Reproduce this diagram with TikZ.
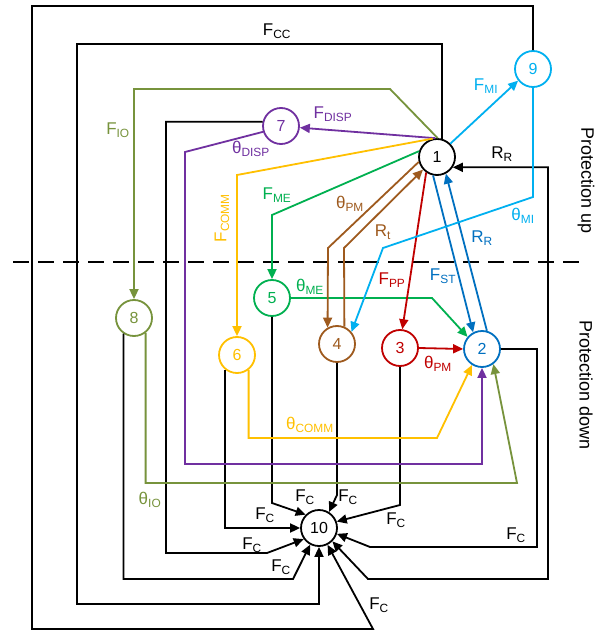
\documentclass[tikz,border=0pt]{standalone}
\usepackage{fontspec}
\setmainfont{Liberation Sans}
\usetikzlibrary{arrows.meta}
\definecolor{cpur}{HTML}{7030A0}
\definecolor{cyel}{HTML}{FFC000}
\definecolor{cgrn}{HTML}{00B050}
\definecolor{coli}{HTML}{77933C}
\definecolor{cbrn}{HTML}{9E5A1E}
\definecolor{cred}{HTML}{C00000}
\definecolor{cblu}{HTML}{0070C0}
\definecolor{clbl}{HTML}{00B0F0}
\tikzset{
  nd/.style={circle, draw=#1, text=#1, line width=1.8pt, minimum size=36pt, inner sep=0pt, fill=white, font=\fontsize{16}{18}\selectfont},
  ln/.style={line width=1.8pt, draw=#1},
  ln/.default=black,
  tip/.style={-{Triangle[length=10pt,width=9pt]}},
  lb/.style={text=#1, inner sep=0pt, font=\fontsize{17}{20}\selectfont},
  lb/.default=black,
  side/.style={inner sep=0pt, font=\fontsize{18}{20}\selectfont, rotate=-90}
}
\begin{document}
\begin{tikzpicture}[x=1pt,y=-1pt]
\useasboundingbox (0,0) rectangle (597,631);
\fill[white] (0,0) rectangle (597,631);

% dashed divider
\draw[line width=2.2pt, dash pattern=on 16pt off 9pt] (13,262) -- (584,262);

% nodes
\node[nd=black] (n1) at (437,157) {1};
\node[nd=cblu] (n2) at (482,349) {2};
\node[nd=cred] (n3) at (400,348) {3};
\node[nd=cbrn] (n4) at (337,344) {4};
\node[nd=cgrn] (n5) at (272,298) {5};
\node[nd=cyel] (n6) at (237,355) {6};
\node[nd=cpur] (n7) at (281,126) {7};
\node[nd=coli] (n8) at (134,318) {8};
\node[nd=clbl] (n9) at (533,69) {9};
\node[nd=black] (n10) at (319,528) {10};

% black connectors to node 10
\draw[ln,tip] (n9.north) |- (32,6) -- (32,629) -- (373,629) -- (n10.-63);
\draw[ln,tip] (n1.75) |- (77,44) -- (77,604) -| (n10.south);
\draw[ln,tip] (n7.167) -| (166,553) -- (267,553) -- (n10.216);
\draw[ln,tip] (n8.236) |- (293,579) -- (n10.242);
\draw[ln,tip] (n6.232) |- (n10.west);
\draw[ln,tip] (n5.south) -- (272,503) -- (n10.135);
\draw[ln,tip] (n4.south) -- (337,495) -- (n10.58);
\draw[ln,tip] (n3.south) -- (400,505) -- (n10.20);
\draw[ln,tip] (n2.east) -| (537,547) -- (370,547) -- (n10.-18);
\draw[ln,{Triangle[length=10pt,width=9pt]}-{Triangle[length=10pt,width=9pt]}] (n10.-45) -- (368,579) -- (548,579) |- (n1.-33);

% olive
\draw[ln=coli,tip] (n1.88) -- (390,89) -- (134,89) -- (n8.north);
\draw[ln=coli,tip] (n8.-52) |- (517,483) -- (n2.-53);
% purple
\draw[ln=cpur,tip] (n1.95) -- (n7.-5);
\draw[ln=cpur,tip] (n7.198) -- (185,152) -- (185,464) -| (n2.south);
% yellow
\draw[ln=cyel,tip] (n1.103) -- (237,175) -- (n6.north);
\draw[ln=cyel,tip] (n6.-52) |- (437,438) -- (n2.238);
% green
\draw[ln=cgrn,tip] (n1.162) -- (272,215) -- (n5.north);
\draw[ln=cgrn,tip] (n5.east) -- (432,298) -- (n2.140);
% brown
\draw[ln=cbrn,tip] (n1.195) -- (328,248) -- (n4.120);
\draw[ln=cbrn,tip] (n4.67) -- (344,248) -- (n1.222);
% red
\draw[ln=cred,tip] (n1.235) -- (n3.83);
\draw[ln=cred,tip] (n3.east) -- (n2.west);
% blue
\draw[ln=cblu,tip] (n1.258) -- (n2.118);
\draw[ln=cblu,tip] (n2.75) -- (n1.298);
% light blue
\draw[ln=clbl,tip] (n1.45) -- (n9.218);
\draw[ln=clbl,tip] (n9.south) -- (533,197) -- (383,248) -- (n4.40);

% labels
\node[lb] (lcc) at (277,31) {F\textsubscript{CC}};
\node[lb=coli] (lio) at (118,130) {F\textsubscript{IO}};
\node[lb=cpur] (ldisp) at (333,114) {F\textsubscript{DISP}};
\node[lb=cpur] (ltdisp) at (251,149) {θ\textsubscript{DISP}};
\node[lb=cyel, rotate=90] (lcomm) at (222,218) {F\textsubscript{COMM}};
\node[lb=cgrn] (lme) at (277,195) {F\textsubscript{ME}};
\node[lb=cgrn] (ltme) at (310,287) {θ\textsubscript{ME}};
\node[lb=cbrn] (ltpm1) at (350,204) {θ\textsubscript{PM}};
\node[lb=cbrn] (lrt) at (383,232) {R\textsubscript{t}};
\node[lb=cred] (lpp) at (392,280) {F\textsubscript{PP}};
\node[lb=cred] (ltpm2) at (438,364) {θ\textsubscript{PM}};
\node[lb=cblu] (lst) at (443,276) {F\textsubscript{ST}};
\node[lb=cblu] (lrr2) at (482,238) {R\textsubscript{R}};
\node[lb=clbl] (lmi) at (486,86) {F\textsubscript{MI}};
\node[lb=clbl] (ltmi) at (523,216) {θ\textsubscript{MI}};
\node[lb] (lrr1) at (502,154) {R\textsubscript{R}};
\node[lb=cyel] (ltcomm) at (310,425) {θ\textsubscript{COMM}};
\node[lb=coli] (ltio) at (150,500) {θ\textsubscript{IO}};
\node[lb] (fc1) at (305,497) {F\textsubscript{C}};
\node[lb] (fc2) at (348,497) {F\textsubscript{C}};
\node[lb] (fc3) at (265,515) {F\textsubscript{C}};
\node[lb] (fc4) at (252,545) {F\textsubscript{C}};
\node[lb] (fc5) at (281,567) {F\textsubscript{C}};
\node[lb] (fc6) at (396,520) {F\textsubscript{C}};
\node[lb] (fc7) at (516,535) {F\textsubscript{C}};
\node[lb] (fc8) at (379,605) {F\textsubscript{C}};

\node[side] (pup) at (586,181) {Protection up};
\node[side] (pdown) at (586,385) {Protection down};
\end{tikzpicture}
\end{document}
